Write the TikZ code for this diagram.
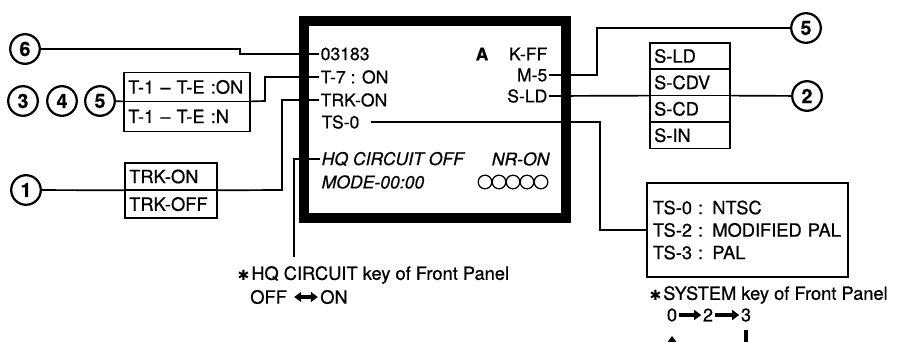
\documentclass[tikz,border=0pt]{standalone}
\usepackage{fontspec}
\setmainfont{TeX Gyre Heros}[FakeBold=0.6]
\newfontfamily\dvfont{DejaVu Sans}
\usetikzlibrary{arrows.meta, positioning}

\begin{document}
\begin{tikzpicture}[
  x=0.025cm, y=-0.025cm,
  font=\fontsize{13}{15}\selectfont,
  tvframe/.style = {draw, line width=0.25cm, inner sep=0pt,
                    minimum width=6.54cm, minimum height=4.9cm},
  scrtxt/.style  = {inner sep=1pt, font=\fontsize{12.5}{14}\selectfont},
  scrital/.style = {inner sep=1pt, font=\fontsize{12.5}{14}\selectfont\itshape},
  numcirc/.style = {circle, draw, line width=1.6pt, minimum size=0.74cm,
                    inner sep=0pt, font=\fontsize{14}{14}\selectfont\bfseries},
  rowbox/.style  = {draw, line width=1.2pt, outer sep=0pt, inner xsep=3pt,
                    inner ysep=0pt, align=left},
  wire/.style    = {line width=1.2pt},
  note/.style    = {inner sep=0pt, anchor=west},
  star/.style    = {inner sep=1pt, font=\dvfont\fontsize{10}{10}\selectfont},
  digit/.style   = {inner sep=1pt},
  fatarr/.style  = {line width=2.4pt, -{Triangle[length=5pt, width=7pt]}},
]
\useasboundingbox (0,0) rectangle (898,341);
\clip (0,0) rectangle (898,341);

%% ── monitor screen ──────────────────────────────────────────────────────────
\node[tvframe] (scr) at (435.25,119.5) {};

\node[scrtxt, anchor=west] (sNum) at (319,54)  {03183};
\node[scrtxt, font=\fontsize{12.5}{14}\selectfont\bfseries] (sA) at (482,54) {A};
\node[scrtxt, anchor=east] (sKff) at (549,54)  {K-FF};
\node[scrtxt, anchor=west] (sT7)  at (319,77)  {T-7 : ON};
\node[scrtxt, anchor=east] (sM5)  at (549,75)  {M-5};
\node[scrtxt, anchor=west] (sTrk) at (319,100) {TRK-ON};
\node[scrtxt, anchor=east] (sSld) at (549,96)  {S-LD};
\node[scrtxt, anchor=west] (sTs)  at (320,122) {TS-0};
\node[scrital, anchor=west] (sHq)   at (320,159) {HQ CIRCUIT OFF};
\node[scrital, anchor=east] (sNr)   at (551,159) {NR-ON};
\node[scrital, anchor=west] (sMode) at (320,182) {MODE-00:00};
\foreach \i in {0,...,4}
  \draw[line width=0.9pt] (485+14*\i,182) circle (0.17cm);

%% ── left side ───────────────────────────────────────────────────────────────
\node[numcirc] (c6)  at (25,49)   {6};
\node[numcirc] (c3)  at (23,101)  {3};
\node[numcirc] (c4)  at (62,101)  {4};
\node[numcirc] (c5l) at (100,101) {5};
\node[numcirc] (c1)  at (26,190)  {1};

\node[rowbox, text width=2.94cm, minimum height=0.72cm] (tOn) at (187,87)
  {T-1 -- T-E :ON};
\node[rowbox, text width=2.94cm, minimum height=0.75cm, below=0pt of tOn] (tN)
  {T-1 -- T-E :N};

\node[rowbox, text width=2.09cm, minimum height=0.69cm] (trkOn) at (171,176.5)
  {TRK-ON};
\node[rowbox, text width=2.09cm, minimum height=0.69cm, below=0pt of trkOn] (trkOff)
  {TRK-OFF};

\draw[wire] (c6) -- (240,49) -- (240,54) -- (sNum.west);
\draw[wire] (c5l) -- (tOn.south west);
\draw[wire] (tOn.south east) -- (265,101) |- (sT7.west);
\draw[wire] (c1) -- (trkOn.south west);
\draw[wire] (trkOn.south east) -- (282,190) |- (sTrk.west);

\coordinate (hqEnd) at (294,257);
\draw[wire] (sHq.west) -| (hqEnd);

\node[note] (hqNote) at (251,275) {HQ CIRCUIT key of Front Panel};
\node[star, left=0pt of hqNote] (hqStar) {✱};
\node[note] (hqOff) at (250,297) {OFF};
\node[note] (hqOn)  at (320,297) {ON};
\draw[fatarr, {Triangle[length=5pt, width=7pt]}-{Triangle[length=5pt, width=7pt]},
      shorten <=5pt, shorten >=1.5pt] (hqOff) -- (hqOn);

%% ── right side ──────────────────────────────────────────────────────────────
\node[numcirc] (c5r) at (806,28) {5};
\node[numcirc] (c2)  at (807,96) {2};

\node[rowbox, text width=1.79cm, minimum height=0.66cm] (sbLd) at (690,56) {S-LD};
\node[rowbox, text width=1.79cm, minimum height=0.66cm, below=0pt of sbLd]  (sbCdv) {S-CDV};
\node[rowbox, text width=1.79cm, minimum height=0.66cm, below=0pt of sbCdv] (sbCd)  {S-CD};
\node[rowbox, text width=1.79cm, minimum height=0.66cm, below=0pt of sbCd]  (sbIn)  {S-IN};

\node[rowbox, text width=4.73cm, minimum height=2.35cm, inner xsep=0.15cm,
      font=\fontsize{13}{16}\selectfont] (tsBox) at (747.5,230)
  {TS-0 : NTSC\\TS-2 : MODIFIED PAL\\TS-3 : PAL};

\draw[wire] (sM5.east) -- (597,75) |- (c5r);
\draw[wire] (sSld.east) -- (sbCdv.south west);
\draw[wire] (sbCdv.south east) -- (c2);
\draw[wire] ([xshift=7pt]sTs.east) -- (600,122) |- (tsBox.west);

\node[note] (sysNote) at (663,295) {SYSTEM key of Front Panel};
\node[star, left=0pt of sysNote] (sysStar) {✱};
\node[digit] (d0) at (672,315) {0};
\node[digit] (d2) at (708,315) {2};
\node[digit] (d3) at (746,315) {3};
\draw[fatarr] (d0) -- (d2);
\draw[fatarr] (d2) -- (d3);
\draw[fatarr, shorten <=5pt, shorten >=9pt] (d3.south) -- (746,360) -| (d0.south);

\end{tikzpicture}
\end{document}
